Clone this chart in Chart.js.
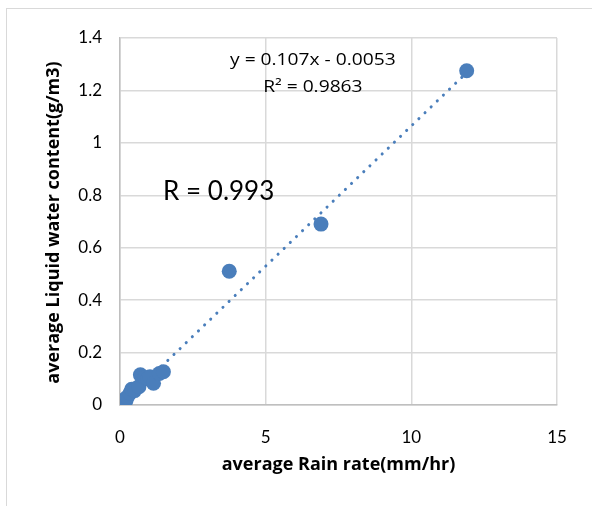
<!DOCTYPE html>
<html>
<head>
<meta charset="utf-8">
<script src="https://cdn.jsdelivr.net/npm/chart.js@4.4.1/dist/chart.umd.min.js"></script>
<style>
    html, body { margin: 0; padding: 0; background: #fff; }
    #frame {
        position: absolute; left: 6px; top: 8px; width: 600px; height: 520px;
        border: 1px solid #d9d9d9; box-sizing: border-box;
    }
    #rainChart { position: absolute; left: 0; top: 0; }
</style>
</head>
<body>
<div id="frame"></div>
<canvas id="rainChart" width="592" height="506"></canvas>
<script>
// average rain rate (mm/hr) vs average liquid water content (g/m3)
const rainRate = [0.17, 0.2, 0.25, 0.34, 0.4, 0.5, 0.65, 0.7, 0.85, 0.95, 1.03, 1.15, 1.35, 1.49, 3.75, 6.9, 11.9];
const lwc = [0.022, 0.015, 0.03, 0.045, 0.06, 0.055, 0.07, 0.115, 0.105, 0.1, 0.108, 0.083, 0.12, 0.127, 0.51, 0.69, 1.275];

// linear fit shown on the chart
const slope = 0.107;
const intercept = -0.0053;
const fitText = ['y = 0.107x - 0.0053', 'R² = 0.9863'];
const rText = 'R = 0.993';
const yTitle = 'average Liquid water content(g/m3)';

const xTicks = [0, 5, 10, 15];
const blue = '#4a7ebb';
const font = 'Lato, "Open Sans", sans-serif';
const wideFont = '"Open Sans", Lato, sans-serif';

const points = rainRate.map((x, i) => ({ x: x, y: lwc[i] }));
const xMin = Math.min(...rainRate);
const xMax = Math.max(...rainRate);
const trend = [xMin, xMax].map(x => ({ x: x, y: slope * x + intercept }));

// text drawn a bit stretched sideways, like the source image
function wideText(c, text, x, y, sx) {
    c.save();
    c.translate(x, y);
    c.scale(sx, 1);
    c.fillText(text, 0, 0);
    c.restore();
}

const labelPlugin = {
    id: 'labels',
    afterDatasetsDraw(chart) {
        const c = chart.ctx;
        const xs = chart.scales.x, ys = chart.scales.y;
        const area = chart.chartArea;
        c.save();
        c.fillStyle = '#000';
        c.font = '16px ' + wideFont;
        c.textAlign = 'center';
        c.textBaseline = 'middle';
        wideText(c, fitText[0], xs.getPixelForValue(6.62), ys.getPixelForValue(1.316), 1.2);
        wideText(c, fitText[1], xs.getPixelForValue(6.62), ys.getPixelForValue(1.213), 1.2);
        c.font = '26px ' + font;
        c.textAlign = 'left';
        c.fillText(rText, xs.getPixelForValue(1.48), ys.getPixelForValue(0.813));

        // y axis title
        c.font = 'bold 18px ' + wideFont;
        c.textAlign = 'center';
        c.translate(area.left - 66, (area.top + area.bottom) / 2 + 1);
        c.rotate(-Math.PI / 2);
        c.fillText(yTitle, 0, 0);
        c.restore();
    }
};

const ctx = document.getElementById('rainChart').getContext('2d');
const myChart = new Chart(ctx, {
    type: 'scatter',
    data: {
        datasets: [{
            type: 'line',
            data: trend,
            borderColor: blue,
            borderWidth: 3,
            borderDash: [0.1, 8.4],
            borderCapStyle: 'round',
            pointRadius: 0,
            fill: false,
            order: 2
        }, {
            data: points,
            backgroundColor: blue,
            borderColor: blue,
            pointRadius: 7.5,
            borderWidth: 0,
            order: 1
        }]
    },
    options: {
        responsive: false,
        animation: false,
        devicePixelRatio: 1,
        layout: { padding: { left: 0, top: 38, right: 35, bottom: 20 } },
        plugins: { legend: { display: false }, tooltip: { enabled: false } },
        scales: {
            x: {
                type: 'linear',
                min: 0, max: 15,
                afterBuildTicks: s => { s.ticks = xTicks.map(v => ({ value: v })); },
                afterFit: s => { s.height = 81; },
                grid: { color: '#d9d9d9', lineWidth: 1.5, drawTicks: false },
                border: { color: '#bfbfbf', width: 1.5 },
                ticks: { color: '#000', font: { family: font, size: 17 }, padding: 22, maxRotation: 0 },
                title: {
                    display: true, text: 'average Rain rate(mm/hr)', color: '#000',
                    font: { family: wideFont, size: 18, weight: 'bold' }, padding: { top: 4, bottom: 10 }
                }
            },
            y: {
                min: 0, max: 1.4,
                afterFit: s => { s.width = 120; },
                grid: { color: '#d9d9d9', lineWidth: 1.5, drawTicks: false },
                border: { color: '#bfbfbf', width: 1.5 },
                ticks: {
                    stepSize: 0.2, color: '#000', font: { family: font, size: 17 }, padding: 18,
                    callback: v => String(+v.toFixed(1))
                }
            }
        }
    },
    plugins: [labelPlugin]
});
</script>
</body>
</html>
